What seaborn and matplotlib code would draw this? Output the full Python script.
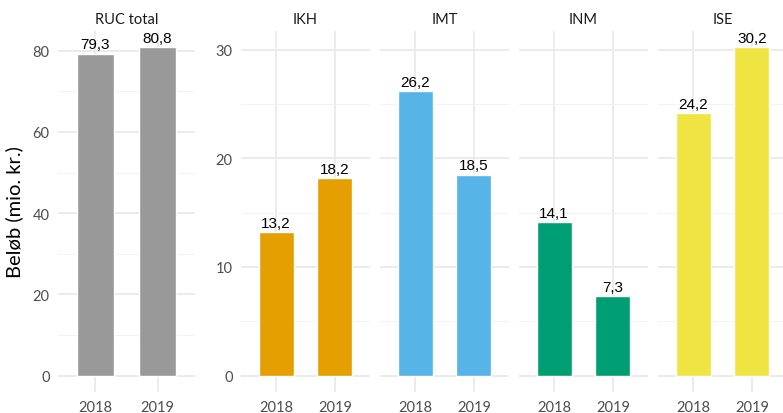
import numpy as np
import pandas as pd
import matplotlib
matplotlib.use("Agg")
import matplotlib.pyplot as plt
from matplotlib.ticker import MultipleLocator
import seaborn as sns

# data
panels = ["RUC total", "IKH", "IMT", "INM", "ISE"]
years = ["2018", "2019"]
ruc_total = [79.3, 80.8]
ikh = [13.2, 18.2]
imt = [26.2, 18.5]
inm = [14.1, 7.3]
ise = [24.2, 30.2]
colors = ["#999999", "#E69F00", "#56B4E9", "#009E73", "#F0E442"]

df = pd.DataFrame({
    "panel": np.repeat(panels, len(years)),
    "year": years * len(panels),
    "value": ruc_total + ikh + imt + inm + ise,
})

sns.set_theme(style="white")
plt.rcParams["font.family"] = ["Lato", "DejaVu Sans"]

W, H = 783, 414
fig = plt.figure(figsize=(W / 100, H / 100), dpi=100)

# panel boxes in pixels: left, right
boxes = [(58, 195), (241, 370), (380, 509), (519, 648), (658, 787)]
top_px, bot_px = 32, 393

grid_major = "#EBEBEB"
grid_minor = "#F3F3F3"

for i, (panel, (l, r)) in enumerate(zip(panels, boxes)):
    ax = fig.add_axes([l / W, (H - bot_px) / H, (r - l) / W, (bot_px - top_px) / H])
    sub = df[df["panel"] == panel]
    sns.barplot(data=sub, x="year", y="value", color=colors[i], saturation=1,
                width=0.6, ax=ax, errorbar=None)
    ax.set_xlim(-0.6, 1.6)
    if i == 0:
        ymax = max(ruc_total)
        ax.yaxis.set_major_locator(MultipleLocator(20))
        ax.yaxis.set_minor_locator(MultipleLocator(10))
    else:
        ymax = 30.2
        ax.yaxis.set_major_locator(MultipleLocator(10))
        ax.yaxis.set_minor_locator(MultipleLocator(5))
    ax.set_ylim(-0.05 * ymax, ymax * 1.05)

    ax.set_axisbelow(True)
    ax.grid(True, which="major", axis="both", color=grid_major, linewidth=1.4)
    ax.grid(True, which="minor", axis="y", color=grid_minor, linewidth=0.8)
    for s in ax.spines.values():
        s.set_visible(False)
    ax.tick_params(which="both", length=0, labelsize=10.5, labelcolor="#4D4D4D")
    ax.tick_params(axis="x", pad=6)
    ax.tick_params(axis="y", pad=6)
    ax.set_xlabel("")
    ax.set_ylabel("")
    if i > 1:
        ax.set_yticklabels([])
    ax.set_title(panel, fontsize=10.5, color="#1A1A1A", pad=6)

    for xi, v in enumerate(sub["value"]):
        ax.annotate(f"{v:.1f}".replace(".", ","), (xi, v), xytext=(0, 1.5),
                    textcoords="offset points", ha="center", va="bottom",
                    fontsize=11, family=["Liberation Sans", "DejaVu Sans"],
                    color="black")

    if i == 0:
        ax.set_ylabel("Beløb (mio. kr.)", fontsize=14.5, color="black", labelpad=7)

fig.savefig("out.png", dpi=100, facecolor="white")
